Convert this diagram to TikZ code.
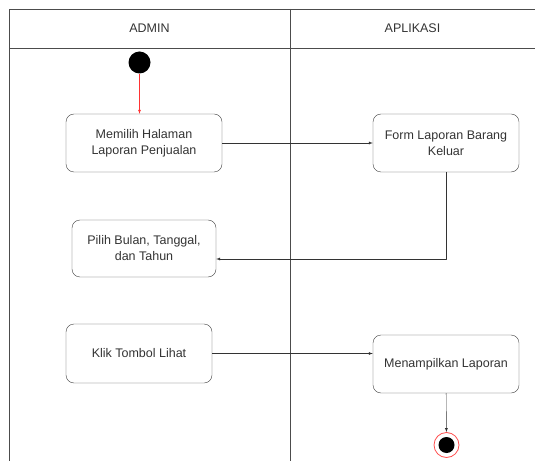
\documentclass[tikz,border=0pt]{standalone}
\usepackage{fontspec}
\setmainfont{Liberation Sans}
\usetikzlibrary{positioning}
\tikzset{
  act/.style={draw=black!75,rounded corners=8bp,align=center,inner sep=2bp,
    text=black!80,font=\fontsize{12.5bp}{16bp}\selectfont},
  lane/.style={draw=black!70,line width=0.8bp},
}
\begin{document}
\begin{tikzpicture}[>=latex,x=1bp,y=-1bp,line join=bevel]
\useasboundingbox (0,0) rectangle (535,461);
%% swimlanes
\draw [lane] (535,9) -- (9,9) -- (9,461);
\draw [lane] (9,48) -- (535,48);
\draw [lane] (290,9) -- (290,461);
\node (hadmin) at (149.5,28.5) [text=black!80,font=\fontsize{12.5bp}{16bp}\selectfont] {ADMIN};
\node (haplikasi) at (412.5,28.5) [text=black!80,font=\fontsize{12.5bp}{16bp}\selectfont] {APLIKASI};
%%
\node (start) at (139.5,62.5) [circle,fill=black,inner sep=0pt,minimum size=22bp] {};
\node (pilihhal) at (144,143) [act,minimum width=156bp,minimum height=58bp] {Memilih Halaman\\Laporan Penjualan};
\node (formlap) at (446,143) [act,minimum width=146bp,minimum height=58bp] {Form Laporan Barang\\Keluar};
\node (pilihtgl) at (144,248.5) [act,minimum width=144bp,minimum height=57bp] {Pilih Bulan, Tanggal,\\dan Tahun};
\node (klik) at (139,353.5) [act,minimum width=146bp,minimum height=59bp] {Klik Tombol Lihat};
\node (tampil) at (446,364) [act,minimum width=146bp,minimum height=58bp] {Menampilkan Laporan};
\node (end) at (446.5,445) [circle,draw=red!70,fill=white,line width=0.8bp,inner sep=0pt,minimum size=25bp] {};
\node (endin) at (end) [circle,fill=black,inner sep=0pt,minimum size=16bp] {};
%%
\draw [->,red!80] (start) -- (start |- pilihhal.north);
\draw [->,black!80] (pilihhal) -- (formlap);
\draw [->,black!80] (formlap) |- ([yshift=-10.5bp]pilihtgl.east);
\draw [->,black!80] (klik) -- (klik -| tampil.west);
\draw [->,black!80] (tampil) -- (end);
%
\end{tikzpicture}
\end{document}
